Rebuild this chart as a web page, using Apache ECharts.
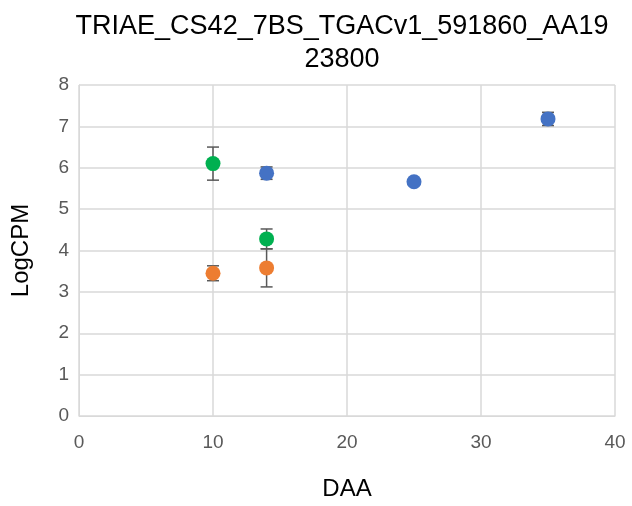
<!DOCTYPE html>
<html>
<head>
<meta charset="utf-8">
<script src="https://cdn.jsdelivr.net/npm/echarts@6/dist/echarts.min.js"></script>
<style>
  html, body { margin: 0; padding: 0; background: #fff; }
  #chart { width: 632px; height: 506px; }
</style>
</head>
<body>
<div id="chart"></div>
<script>
// data
var blueX = [14, 25, 35];
var blueY = [5.87, 5.66, 7.18];
var blueErr = [0.15, 0.05, 0.16];

var orangeX = [10, 14];
var orangeY = [3.45, 3.58];
var orangeErr = [0.18, 0.46];

var greenX = [10, 14];
var greenY = [6.1, 4.28];
var greenErr = [0.4, 0.24];

var colorList = ["#4472C4", "#ED7D31", "#00B050"];

var myChart = echarts.init(document.getElementById("chart"));

function pts(xs, ys) {
  return xs.map(function (x, i) { return [x, ys[i]]; });
}
function errData(xs, ys, es) {
  return xs.map(function (x, i) { return [x, ys[i] - es[i], ys[i] + es[i]]; });
}

// error bars: vertical line + caps
function errorBars(xs, ys, es) {
  return {
    type: "custom",
    z: 1,
    silent: true,
    data: errData(xs, ys, es),
    renderItem: function (params, api) {
      var lo = api.coord([api.value(0), api.value(1)]);
      var hi = api.coord([api.value(0), api.value(2)]);
      var w = 6;
      var style = { stroke: "#595959", lineWidth: 1.5 };
      return {
        type: "group",
        children: [
          { type: "line", shape: { x1: lo[0], y1: lo[1], x2: hi[0], y2: hi[1] }, style: style },
          { type: "line", shape: { x1: lo[0] - w, y1: lo[1], x2: lo[0] + w, y2: lo[1] }, style: style },
          { type: "line", shape: { x1: hi[0] - w, y1: hi[1], x2: hi[0] + w, y2: hi[1] }, style: style }
        ]
      };
    }
  };
}

function dots(xs, ys, c) {
  return {
    type: "scatter",
    z: 3,
    symbolSize: 15,
    itemStyle: { color: c, opacity: 1 },
    data: pts(xs, ys)
  };
}

var option = {
  animation: false,
  title: {
    text: "TRIAE_CS42_7BS_TGACv1_591860_AA19\n23800",
    left: 337,
    top: 5,
    textAlign: "center",
    textStyle: {
      fontFamily: "Liberation Sans",
      fontWeight: "normal",
      fontSize: 27,
      lineHeight: 33,
      color: "#000"
    }
  },
  grid: { left: 79, right: 17, top: 85, bottom: 88 },
  xAxis: {
    type: "value",
    min: 0,
    max: 40,
    interval: 10,
    name: "DAA",
    nameLocation: "middle",
    nameGap: 61,
    nameTextStyle: { fontFamily: "Liberation Sans", fontSize: 24, color: "#000" },
    axisLine: { show: true, lineStyle: { color: "#d9d9d9" } },
    axisTick: { show: false },
    axisLabel: { fontFamily: "Liberation Sans", fontSize: 19, color: "#595959", margin: 17 },
    splitLine: { show: true, lineStyle: { color: "#d9d9d9", width: 1.5 } }
  },
  yAxis: {
    type: "value",
    min: 0,
    max: 8,
    interval: 1,
    name: "LogCPM",
    nameLocation: "middle",
    nameGap: 46,
    nameTextStyle: { fontFamily: "Liberation Sans", fontSize: 24, color: "#000" },
    axisLine: { show: true, lineStyle: { color: "#d9d9d9" } },
    axisTick: { show: false },
    axisLabel: { fontFamily: "Liberation Sans", fontSize: 19, color: "#595959", margin: 10 },
    splitLine: { show: true, lineStyle: { color: "#d9d9d9", width: 1.5 } }
  },
  series: [
    errorBars(blueX, blueY, blueErr),
    errorBars(orangeX, orangeY, orangeErr),
    errorBars(greenX, greenY, greenErr),
    dots(blueX, blueY, colorList[0]),
    dots(orangeX, orangeY, colorList[1]),
    dots(greenX, greenY, colorList[2])
  ]
};

myChart.setOption(option);
</script>
</body>
</html>
